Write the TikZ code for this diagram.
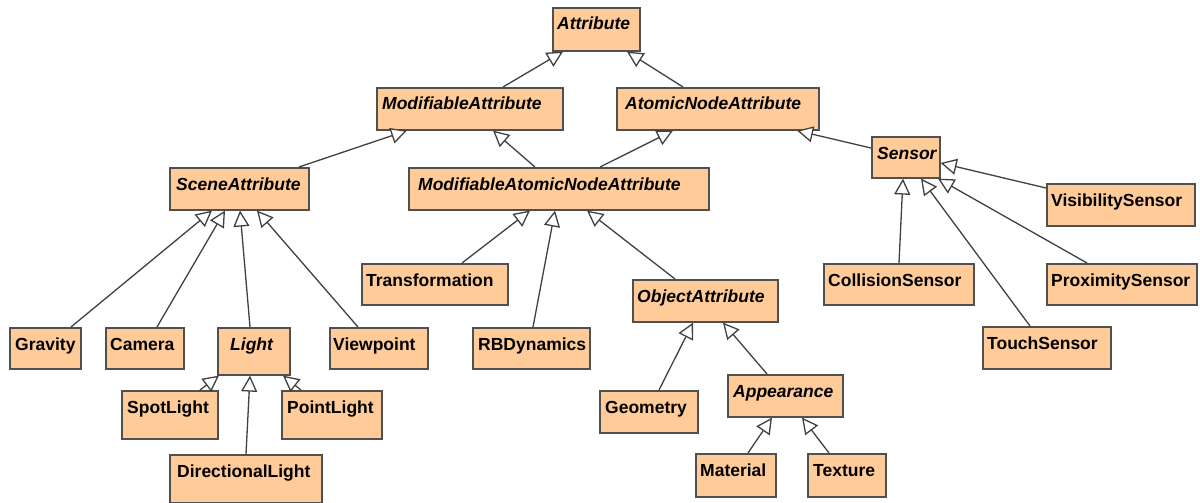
\documentclass[tikz,border=0pt]{standalone}
\usepackage{fontspec}
\setmainfont{Liberation Sans}
\usetikzlibrary{arrows.meta,calc}
\definecolor{classfill}{HTML}{FFCC99}
\definecolor{classline}{HTML}{505050}
\definecolor{linkline}{HTML}{404040}
\tikzset{
  classbox/.style={draw=classline, fill=classfill, line width=1.6pt, inner sep=0pt, rectangle},
  classname/.style={inner sep=0pt, anchor=base west, font=\fontsize{17.5}{20}\selectfont\bfseries},
  abstractname/.style={classname, font=\fontsize{17.5}{20}\selectfont\bfseries\itshape},
  inherits/.style={draw=linkline, line width=1.3pt, -{Triangle[length=16pt,width=16pt,fill=white]}},
}
% \umlclass[label style]{name}{left}{top}{right}{bottom}{text x}{text}
\newcommand\umlclass[8][classname]{%
  \pgfmathsetmacro\boxw{#5-#3}\pgfmathsetmacro\boxh{#6-#4}%
  \node[classbox, minimum width=\boxw pt, minimum height=\boxh pt, anchor=north west] (#2) at (#3,#4) {};
  \node[#1] (#2-text) at (#7,{#4+23}) {#8};}
\begin{document}
\begin{tikzpicture}[x=1pt, y=-1pt]
\useasboundingbox (0,0) rectangle (1200,503);

% class boxes
\umlclass[abstractname]{attr}{552}{7}{639}{50}{557}{Attribute}
\umlclass[abstractname]{modattr}{376}{87}{562}{129}{382}{ModifiableAttribute}
\umlclass[abstractname]{ana}{616}{87}{818}{129}{625}{AtomicNodeAttribute}
\umlclass[abstractname]{scene}{169}{167}{308}{209}{176}{SceneAttribute}
\umlclass[abstractname]{mana}{408}{167}{708}{209}{418}{ModifiableAtomicNodeAttribute}
\umlclass[abstractname]{sensor}{871}{136}{939}{177}{877}{Sensor}
\umlclass{vis}{1046}{183}{1194}{225}{1051}{VisibilitySensor}
\umlclass{coll}{823}{263}{973}{304}{828}{CollisionSensor}
\umlclass{prox}{1046}{263}{1196}{304}{1051}{ProximitySensor}
\umlclass{touch}{982}{326}{1110}{368}{987}{TouchSensor}
\umlclass{trans}{361}{263}{507}{304}{366}{Transformation}
\umlclass{rbd}{472}{327}{589}{368}{478}{RBDynamics}
\umlclass[abstractname]{objattr}{632}{279}{777}{321}{637}{ObjectAttribute}
\umlclass{grav}{9}{327}{80}{368}{15}{Gravity}
\umlclass{cam}{105}{327}{183}{368}{110}{Camera}
\umlclass[abstractname]{light}{217}{327}{289}{374}{230}{Light}
\umlclass{view}{329}{327}{427}{368}{333}{Viewpoint}
\umlclass{spot}{121}{390}{217}{438}{127}{SpotLight}
\umlclass{point}{281}{390}{381}{438}{287}{PointLight}
\umlclass{dir}{169}{454}{321}{502}{177}{DirectionalLight}
\umlclass{geom}{599}{390}{697}{432}{605}{Geometry}
\umlclass[abstractname]{appear}{727}{374}{842}{416}{733}{Appearance}
\umlclass{mat}{695}{453}{775}{496}{700}{Material}
\umlclass{tex}{807}{453}{885}{496}{813}{Texture}

% inheritance connectors, child to parent
\draw[inherits] ($(modattr.north west)+(127,0)$) -- ($(attr.south west)+(11,0)$);
\draw[inherits] ($(ana.north west)+(67,0)$) -- ($(attr.south west)+(75,0)$);
\draw[inherits] ($(scene.north west)+(130,0)$) -- ($(modattr.south west)+(31,0)$);
\draw[inherits] ($(mana.north west)+(127,0)$) -- ($(modattr.south west)+(117,0)$);
\draw[inherits] ($(mana.north west)+(192,0)$) -- ($(ana.south west)+(57,0)$);
\draw[inherits] ($(sensor.north west)+(0,12)$) -- ($(ana.south west)+(181,0)$);
\draw[inherits] ($(vis.north west)+(0,5)$) -- ($(sensor.north east)+(0,27)$);
\draw[inherits] ($(coll.north west)+(76,0)$) -- ($(sensor.south west)+(32,0)$);
\draw[inherits] ($(touch.north west)+(48,0)$) -- ($(sensor.south west)+(50,0)$);
\draw[inherits] ($(prox.north west)+(41,0)$) -- ($(sensor.south west)+(67,0)$);
\draw[inherits] ($(grav.north west)+(62,0)$) -- ($(scene.south west)+(43,0)$);
\draw[inherits] ($(cam.north west)+(52,0)$) -- ($(scene.south west)+(56,0)$);
\draw[inherits] ($(light.north west)+(33,0)$) -- ($(scene.south west)+(71,0)$);
\draw[inherits] ($(view.north west)+(29,0)$) -- ($(scene.south west)+(88,0)$);
\draw[inherits] ($(spot.north west)+(79,0)$) -- ($(light.south west)+(2,0)$);
\draw[inherits] ($(dir.north west)+(77,0)$) -- ($(light.south west)+(33,0)$);
\draw[inherits] ($(point.north west)+(20,0)$) -- ($(light.south west)+(66,0)$);
\draw[inherits] ($(trans.north west)+(101,0)$) -- ($(mana.south west)+(122,0)$);
\draw[inherits] ($(rbd.north west)+(61,0)$) -- ($(mana.south west)+(147,0)$);
\draw[inherits] ($(objattr.north west)+(43,0)$) -- ($(mana.south west)+(179,0)$);
\draw[inherits] ($(geom.north west)+(60,0)$) -- ($(objattr.south west)+(61,0)$);
\draw[inherits] ($(appear.north west)+(40,0)$) -- ($(objattr.south west)+(91,0)$);
\draw[inherits] ($(mat.north west)+(53,0)$) -- ($(appear.south west)+(45,0)$);
\draw[inherits] ($(tex.north west)+(22,0)$) -- ($(appear.south west)+(75,0)$);
\end{tikzpicture}
\end{document}
